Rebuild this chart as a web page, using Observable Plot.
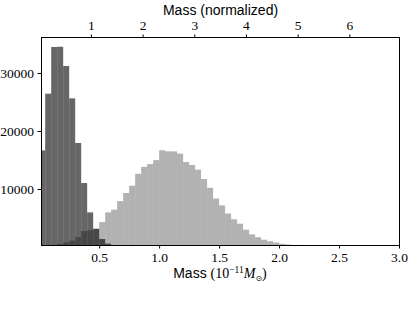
<!DOCTYPE html>
<html><head><meta charset="utf-8">
<script src="https://cdn.jsdelivr.net/npm/d3@7"></script>
<script src="https://cdn.jsdelivr.net/npm/@observablehq/plot@0.6"></script>
<style>body{margin:0;background:#fff}</style>
</head><body><div id="chart"></div>
<script>
// Histogram bins: width 0.05 starting at 0 (mass in 1e-11 Msun)
const binWidth = 0.05;
const darkCounts = [16650, 26430, 34480, 34520, 31200, 25620, 17930, 11030, 5970, 3150, 1380, 570, 200];
const lightCounts = [0, 100, 250, 520, 800, 1090, 1720, 2760, 2870, 3100,
  4290, 5970, 6430, 7900, 9310, 10570, 12620, 13820, 14300, 14980,
  16680, 16500, 16480, 16100, 14650, 14140, 13330, 11720, 10200, 8350,
  7170, 5770, 4770, 4020, 2980, 2180, 1690, 1260, 1000, 770,
  540, 430, 360, 200, 100];
const xTicks = [0.5, 1.0, 1.5, 2.0, 2.5, 3.0];
const yTicks = [10000, 20000, 30000];
const normTicks = [1, 2, 3, 4, 5, 6];
const normFactor = 0.431; // mass units per normalized unit
const xDomain = [0.015, 3.0];
const yDomain = [345, 36200];
const topLabel = "Mass (normalized)";

const serif = "'Liberation Serif', 'DejaVu Serif', serif";
const sans = "'Liberation Sans', Arial, sans-serif";

const toBins = (counts) => counts.map((c, i) => ({x1: i * binWidth, x2: (i + 1) * binWidth, count: c}));
const dark = toBins(darkCounts);
const light = toBins(lightCounts);

const W = 415, H = 311;
const plot = Plot.plot({
  width: W, height: H,
  marginLeft: 41, marginRight: 16, marginTop: 37, marginBottom: 66,
  style: {fontFamily: serif, fontSize: "13.5px", background: "#fff", color: "#000"},
  x: {domain: xDomain},
  y: {domain: yDomain},
  marks: [
    Plot.rect(dark, {x1: "x1", x2: "x2", y1: 0, y2: "count", fill: "#000", fillOpacity: 0.6, clip: true}),
    Plot.rect(light, {x1: "x1", x2: "x2", y1: 0, y2: "count", fill: "#000", fillOpacity: 0.3, clip: true}),
    Plot.frame({stroke: "#000", strokeWidth: 1}),
    Plot.axisY(yTicks, {anchor: "left", tickSize: 3.5, tickPadding: 4, tickFormat: d => String(d), label: null, fontFamily: serif, fontSize: 13.5, fill: "#000"}),
    Plot.axisX(xTicks, {anchor: "bottom", tickSize: 3.5, tickPadding: 3.5, tickFormat: d => d.toFixed(1), label: null, fontFamily: serif, fontSize: 13.5, fill: "#000"}),
    Plot.axisX(normTicks.map(n => n * normFactor), {anchor: "top", tickSize: 3.5, tickPadding: 4, tickFormat: d => String(Math.round(d / normFactor)), label: null, fontFamily: serif, fontSize: 13.5, fill: "#000"}),
    Plot.text([topLabel], {frameAnchor: "top", dy: -23, lineAnchor: "bottom", fontFamily: sans, fontSize: 14, fill: "#000"})
  ]
});

// Bottom axis label with math formatting
const xs = plot.scale("x").range;
const ys = plot.scale("y").range;
const lbl = d3.select(plot).append("text")
  .attr("x", (xs[0] + xs[1]) / 2)
  .attr("y", Math.max(ys[0], ys[1]) + 33)
  .attr("text-anchor", "middle")
  .attr("fill", "#000")
  .style("font-size", "14px");
lbl.append("tspan").style("font-family", sans).text("Mass ");
lbl.append("tspan").style("font-family", serif).text("(10");
lbl.append("tspan").style("font-family", serif).style("font-size", "9.5px").attr("dy", -5.5).text("\u221211");
lbl.append("tspan").style("font-family", serif).style("font-style", "italic").attr("dy", 5.5).text("M");
lbl.append("tspan").style("font-family", "'DejaVu Sans', sans-serif").style("font-size", "8px").attr("dy", 2.5).text("\u2299");
lbl.append("tspan").style("font-family", serif).attr("dy", -2.5).text(")");

document.getElementById("chart").appendChild(plot);
</script>
</body></html>
